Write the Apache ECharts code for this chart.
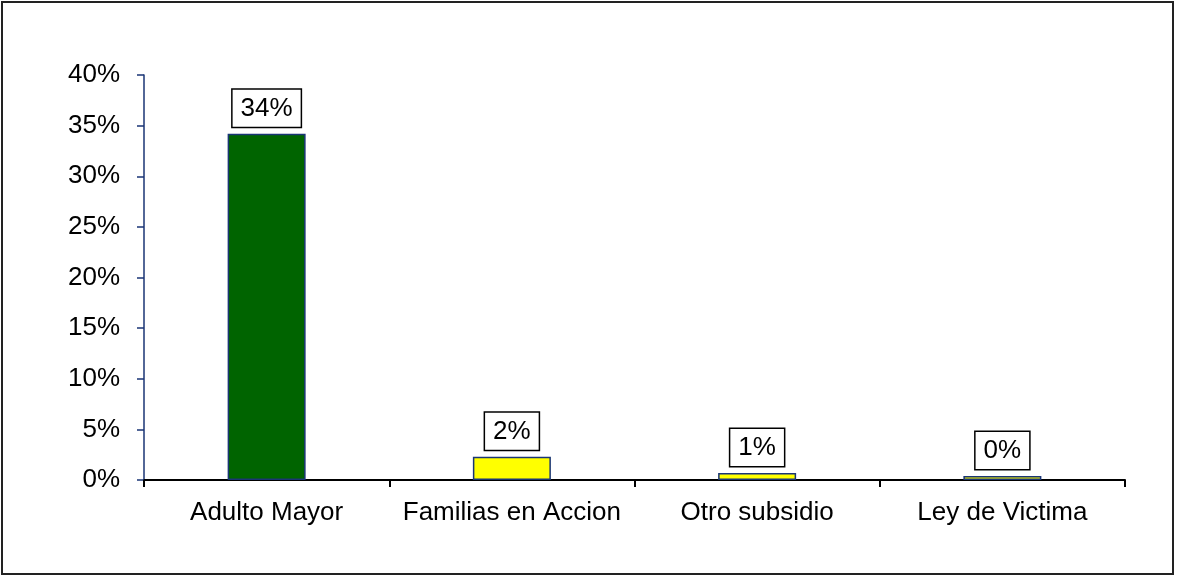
<!DOCTYPE html>
<html>
<head>
<meta charset="utf-8">
<script src="https://cdn.jsdelivr.net/npm/echarts@6/dist/echarts.min.js"></script>
<style>
html,body{margin:0;padding:0;background:#fff;}
#chart{width:1177px;height:577px;}
</style>
</head>
<body>
<div id="chart"></div>
<script>
var categories = ['Adulto Mayor', 'Familias en Accion', 'Otro subsidio', 'Ley de Victima'];
var values = [34.2, 2.3, 0.7, 0.4];
var barColors = ['#006400', '#ffff00', '#ffff00', '#ffff00'];

var FONT = '"Liberation Sans", Arial, sans-serif';
var chart = echarts.init(document.getElementById('chart'), null, {renderer: 'canvas'});
chart.setOption({
  animation: false,
  backgroundColor: '#ffffff',
  graphic: [{
    type: 'rect',
    shape: {x: 2, y: 2, width: 1171, height: 572},
    style: {fill: 'none', stroke: '#222', lineWidth: 2},
    silent: true
  }],
  grid: {left: 144, top: 75, right: 52, bottom: 97, containLabel: false},
  xAxis: {
    type: 'category',
    data: categories,
    axisLine: {lineStyle: {color: '#000', width: 2}},
    axisTick: {show: true, length: 7, lineStyle: {color: '#000', width: 2}},
    axisLabel: {color: '#000', fontSize: 26, fontFamily: FONT, margin: 20, interval: 0, hideOverlap: false}
  },
  yAxis: {
    type: 'value',
    min: 0, max: 40, interval: 5,
    splitLine: {show: false},
    axisLine: {show: true, lineStyle: {color: '#1a3575', width: 1.5}},
    axisTick: {show: true, length: 7, lineStyle: {color: '#1a3575', width: 1.5}},
    axisLabel: {color: '#000', fontSize: 26, fontFamily: FONT, margin: 24, formatter: '{value}%'}
  },
  series: [{
    type: 'bar',
    barWidth: 78,
    data: values.map(function (v, i) {
      return {value: v, itemStyle: {color: barColors[i]}};
    }),
    itemStyle: {borderColor: '#1a3575', borderWidth: 1.5},
    label: {
      show: true,
      position: 'top',
      distance: 7,
      color: '#000',
      fontSize: 26,
      fontFamily: FONT,
      backgroundColor: '#fff',
      borderColor: '#000',
      borderWidth: 1.5,
      padding: [6, 8, 5, 8],
      formatter: function (p) { return Math.round(p.value) + '%'; }
    }
  }]
});
</script>
</body>
</html>
